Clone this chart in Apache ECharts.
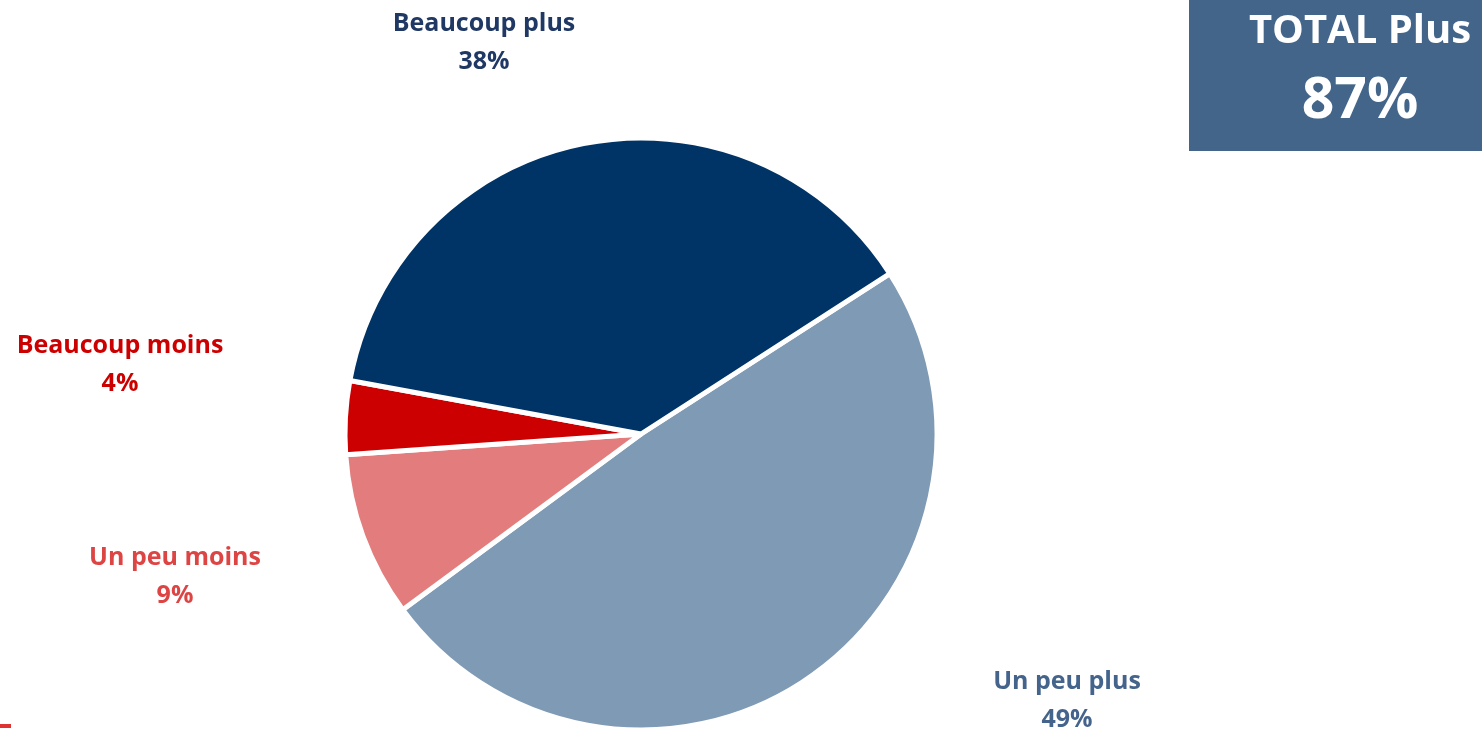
<!DOCTYPE html>
<html>
<head>
<meta charset="utf-8">
<script src="https://cdn.jsdelivr.net/npm/echarts@6/dist/echarts.min.js"></script>
<style>
  html, body { margin: 0; padding: 0; background: #fff; }
  #pieChart { width: 1482px; height: 729px; }
</style>
</head>
<body>
<div id="pieChart"></div>
<script>
// data, in drawing order (clockwise from the upper right)
var categories = ['Un peu plus', 'Un peu moins', 'Beaucoup moins', 'Beaucoup plus'];
var values = [49, 9, 4, 38];
var totalLabel = 'TOTAL Plus';
var totalValue = '87%';

var sliceColors = ['#7f9ab4', '#e37d7d', '#cc0000', '#003366'];
var labelColors = ['#44648c', '#dd4444', '#cc0000', '#1f3864'];
// where each label sits (centre of the text block)
var labelPos = [[1067, 701], [175, 577], [120, 365], [484, 43]];

var fontFamily = '"Open Sans", Lato, sans-serif';

var chart = echarts.init(document.getElementById('pieChart'), null, { renderer: 'canvas' });

var pieData = categories.map(function (name, i) {
  return {
    name: name,
    value: values[i],
    itemStyle: { color: sliceColors[i] },
    label: { color: labelColors[i] }
  };
});

chart.setOption({
  animation: false,
  series: [
    {
      type: 'pie',
      center: [641, 434],
      radius: 296,
      startAngle: 32.8,
      clockwise: true,
      itemStyle: {
        borderColor: '#fff',
        borderWidth: 5
      },
      label: {
        show: true,
        formatter: '{b}\n{c}%',
        fontFamily: fontFamily,
        fontWeight: 'bold',
        fontSize: 25,
        lineHeight: 38,
        align: 'center'
      },
      labelLine: { show: false },
      labelLayout: function (params) {
        var p = labelPos[params.dataIndex];
        return { x: p[0], y: p[1], align: 'center', verticalAlign: 'middle' };
      },
      emphasis: { disabled: true },
      data: pieData
    }
  ],
  graphic: [
    {
      type: 'rect',
      shape: { x: 1189, y: 0, width: 293, height: 151 },
      style: { fill: '#43658a' }
    },
    {
      type: 'text',
      x: 1360, y: 32,
      style: {
        text: totalLabel, fill: '#fff', fontFamily: fontFamily, fontWeight: 'bold',
        fontSize: 40, align: 'center', verticalAlign: 'middle'
      }
    },
    {
      type: 'text',
      x: 1360, y: 102,
      style: {
        text: totalValue, fill: '#fff', fontFamily: fontFamily, fontWeight: 'bold',
        fontSize: 57, align: 'center', verticalAlign: 'middle'
      }
    },
    {
      type: 'rect',
      shape: { x: 0, y: 724, width: 11, height: 4 },
      style: { fill: '#dd3333' }
    }
  ]
});
</script>
</body>
</html>
